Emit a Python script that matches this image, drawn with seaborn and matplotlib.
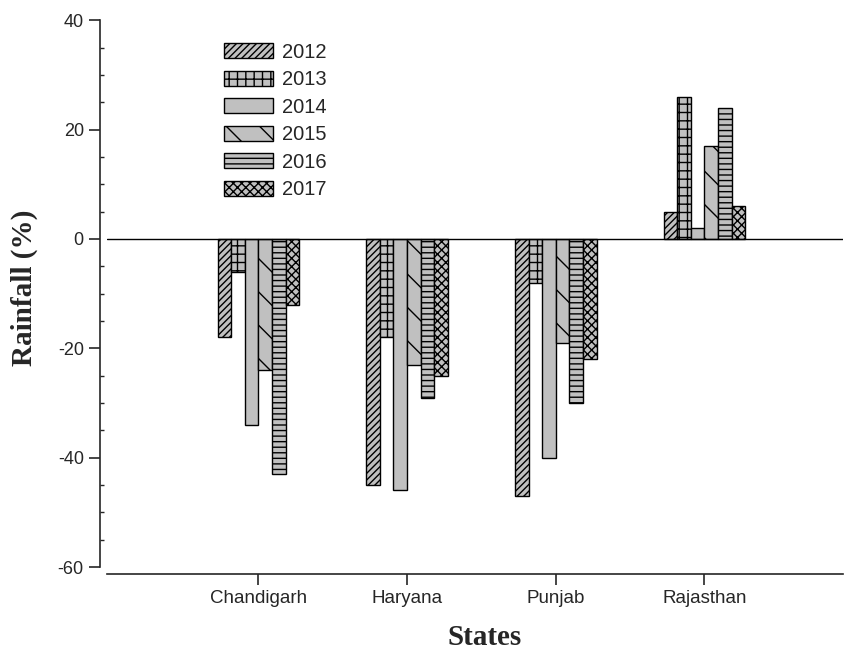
import pandas as pd
import numpy as np
import matplotlib.pyplot as plt
import seaborn as sns
from matplotlib.patches import Patch
from matplotlib.ticker import MultipleLocator

# Data
states = ['Chandigarh', 'Haryana', 'Punjab', 'Rajasthan']
years = ['2012', '2013', '2014', '2015', '2016', '2017']
rain_2012 = [-18, -45, -47, 5]
rain_2013 = [-6, -18, -8, 26]
rain_2014 = [-34, -46, -40, 2]
rain_2015 = [-24, -23, -19, 17]
rain_2016 = [-43, -29, -30, 24]
rain_2017 = [-12, -25, -22, 6]
series = [rain_2012, rain_2013, rain_2014, rain_2015, rain_2016, rain_2017]

hatches = ['/////', '++', '', '\\', '---', 'xxxx']

rows = []
for yr, vals in zip(years, series):
    for st, v in zip(states, vals):
        rows.append({'State': st, 'Year': yr, 'Rainfall': v})
df = pd.DataFrame(rows)

sns.set_style('ticks')
plt.rcParams['font.family'] = ['Liberation Sans', 'DejaVu Sans']
plt.rcParams['hatch.linewidth'] = 1.0
plt.rcParams['axes.unicode_minus'] = False

fig = plt.figure(figsize=(8.47, 6.51), dpi=100)
ax = fig.add_axes([0.126, 0.129, 0.869, 0.840])

sns.barplot(data=df, x='State', y='Rainfall', hue='Year', order=states,
            hue_order=years, width=0.55, palette=['#c0c0c0'] * 6,
            edgecolor='black', linewidth=1.0, legend=False, ax=ax)

for cont, h in zip(ax.containers, hatches):
    for bar in cont:
        bar.set_hatch(h)
        bar.set_edgecolor('black')

ax.axhline(0, color='black', linewidth=1.0)

ax.set_ylim(-60, 40)
ax.set_xlim(-1.02, 3.93)
ax.yaxis.set_major_locator(MultipleLocator(20))
ax.yaxis.set_minor_locator(MultipleLocator(5))
ax.tick_params(axis='y', which='major', direction='out', length=8, width=1.2, labelsize=13)
ax.tick_params(axis='y', which='minor', direction='in', length=3, width=1)
ax.tick_params(axis='x', which='major', direction='out', length=8, width=1.2, labelsize=13.5)

sns.despine(ax=ax, offset=5)
for sp in ['left', 'bottom']:
    ax.spines[sp].set_linewidth(1.2)

ax.set_xlabel('States', fontsize=21, fontweight='bold', family='Liberation Serif')
ax.set_ylabel('Rainfall (%)', fontsize=21, fontweight='bold', family='Liberation Serif')
ax.xaxis.set_label_coords(0.514, -0.104)
ax.yaxis.set_label_coords(-0.093, 0.51)

handles = [Patch(facecolor='#c0c0c0', edgecolor='black', hatch=h, label=y)
           for y, h in zip(years, hatches)]
ax.legend(handles=handles, loc='upper left', bbox_to_anchor=(0.2425, 0.962),
          bbox_transform=fig.transFigure, frameon=False, fontsize=14.5,
          handlelength=2.45, handleheight=0.75, labelspacing=0.42, handletextpad=0.45)

plt.savefig('out.png', dpi=100)
